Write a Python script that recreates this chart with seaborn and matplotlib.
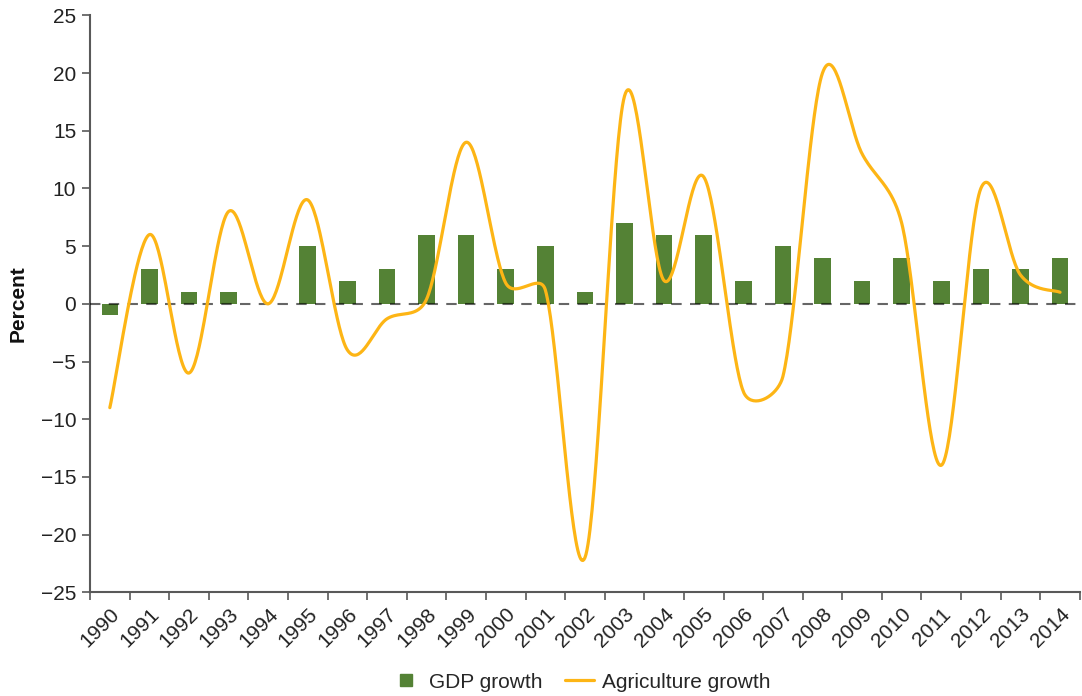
import numpy as np
import pandas as pd
import matplotlib
matplotlib.use("Agg")
import matplotlib.pyplot as plt
import seaborn as sns
from matplotlib.lines import Line2D

years = [str(y) for y in range(1990, 2015)]
gdp_growth = [-1, 3, 1, 1, 0, 5, 2, 3, 6, 6, 3, 5, 1, 7, 6, 6, 2, 5, 4, 2, 4, 2, 3, 3, 4]
agri_growth = [-9, 6, -6, 8, 0, 9, -4, -1.3, 0.4, 14, 1.8, 1.2, -22, 18, 2, 11, -7.6, -6.3, 20, 13, 7, -14, 10, 2.5, 1]

GREEN = "#548235"
GOLD = "#FDB515"
GREY = "#595959"

# pixel size of one unit on each axis (used only for the smoothing)
PX_X, PX_Y = 39.6, 11.54


def smooth_line(y, steps=40, k=0.5):
    # smoothed line like a spreadsheet chart: cubic Bezier through the points,
    # Catmull-Rom tangents, clipped when longer than k * segment length
    pts = np.column_stack([np.arange(len(y), dtype=float), np.asarray(y, dtype=float)])
    scr = pts * [PX_X, PX_Y]
    n = len(pts)
    tang = np.array([(scr[min(i + 1, n - 1)] - scr[max(i - 1, 0)]) / 6 for i in range(n)])
    out = [pts[:1]]
    t = np.linspace(0, 1, steps)[1:, None]
    for i in range(n - 1):
        d12 = np.hypot(*(scr[i + 1] - scr[i]))
        t1, t2 = tang[i], tang[i + 1]
        l1, l2 = np.hypot(*t1), np.hypot(*t2)
        if l1 > k * d12:
            t1 = t1 * k * d12 / l1
        if l2 > k * d12:
            t2 = t2 * k * d12 / l2
        s1, s2 = scr[i], scr[i + 1]
        c1, c2 = s1 + t1, s2 - t2
        seg = ((1 - t) ** 3) * s1 + 3 * ((1 - t) ** 2) * t * c1 + 3 * (1 - t) * t ** 2 * c2 + t ** 3 * s2
        out.append(seg / [PX_X, PX_Y])
    res = np.vstack(out)
    return res[:, 0], res[:, 1]


sns.set_theme(style="ticks")
plt.rcParams["font.family"] = ["Liberation Sans", "DejaVu Sans"]

df = pd.DataFrame({"Year": years, "GDP growth": gdp_growth})

fig = plt.figure(figsize=(10.82, 6.96), dpi=100)
ax = fig.add_axes([0.0832, 0.149, 0.9148, 0.829])

sns.barplot(data=df, x="Year", y="GDP growth", color=GREEN, width=0.42,
            saturation=1, linewidth=0, ax=ax, zorder=2)

ax.axhline(0, color="black", lw=1.5, ls=(0, (5, 4)), alpha=0.6, zorder=3)

sx, sy = smooth_line(agri_growth)
sns.lineplot(x=sx, y=sy, color=GOLD, lw=2.3, ax=ax, zorder=4, sort=False)

ax.set_xlim(-0.5, len(years) - 0.5)
ax.set_ylim(-25, 25)
ax.set_yticks(range(-25, 26, 5))
ax.set_xlabel("")
ax.set_ylabel("Percent", fontsize=15, fontweight="bold", labelpad=9, color="#111111")

ax.set_xticks(range(len(years)))
ax.set_xticklabels(years, rotation=45, ha="right", rotation_mode="anchor", fontsize=15, color="#222222")
ax.set_xticks(np.arange(-0.5, len(years), 1), minor=True)
ax.tick_params(axis="x", which="major", length=0, pad=9)
ax.tick_params(axis="x", which="minor", length=6, width=1.2, color=GREY, direction="out")
ax.tick_params(axis="y", length=6, width=1.2, color=GREY, labelsize=15, labelcolor="#222222", pad=4)

for side in ["top", "right"]:
    ax.spines[side].set_visible(False)
for side in ["left", "bottom"]:
    ax.spines[side].set_color(GREY)
    ax.spines[side].set_linewidth(1.5)

handles = [
    Line2D([0], [0], marker="s", color="none", markerfacecolor=GREEN, markeredgecolor=GREEN, markersize=9),
    Line2D([0], [0], color=GOLD, lw=2.3),
]
fig.legend(handles, ["GDP growth", "Agriculture growth"], loc="center", bbox_to_anchor=(0.537, 0.02),
           ncol=2, frameon=False, fontsize=15, handlelength=1.4, handletextpad=0.4, columnspacing=1.1)

plt.savefig("out.png", dpi=100, facecolor="white")
plt.close()
